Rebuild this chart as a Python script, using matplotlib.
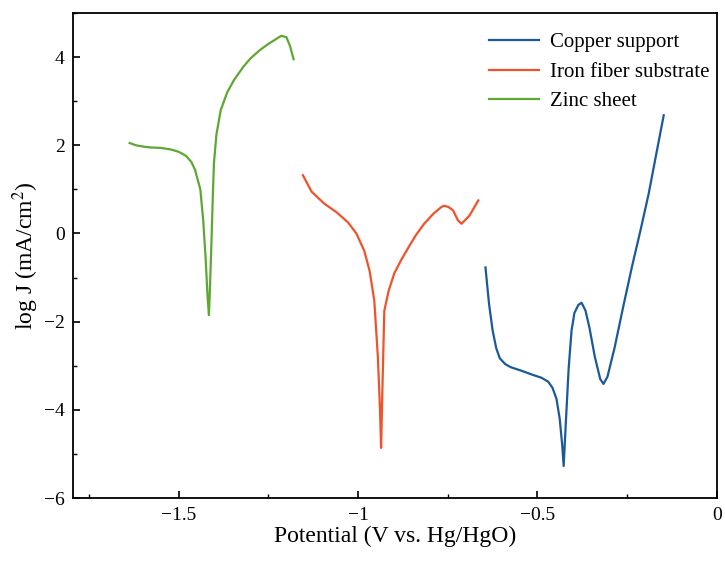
import numpy as np
import matplotlib
matplotlib.use("Agg")
import matplotlib.pyplot as plt
from matplotlib.ticker import MultipleLocator

plt.rcParams['font.family'] = ['Liberation Serif', 'DejaVu Serif']
plt.rcParams['mathtext.fontset'] = 'stix'

# Copper support
cu_x = [-0.645, -0.635, -0.625, -0.615, -0.605, -0.59, -0.575, -0.545, -0.515, -0.489,
        -0.470, -0.458, -0.447, -0.438, -0.431, -0.427, -0.421, -0.413, -0.405, -0.397,
        -0.386, -0.377, -0.366, -0.355, -0.340, -0.325, -0.316, -0.305, -0.285, -0.262,
        -0.237, -0.212, -0.19, -0.17, -0.148]
cu_y = [-0.77, -1.6, -2.2, -2.6, -2.83, -2.96, -3.03, -3.11, -3.2, -3.27,
        -3.36, -3.5, -3.75, -4.2, -4.8, -5.27, -4.3, -3.05, -2.2, -1.8,
        -1.62, -1.57, -1.75, -2.14, -2.8, -3.3, -3.41, -3.25, -2.59, -1.7,
        -0.77, 0.1, 0.9, 1.75, 2.68]

# Iron fiber substrate
fe_x = [-1.154, -1.13, -1.095, -1.06, -1.028, -1.005, -0.983, -0.968, -0.955, -0.945,
        -0.939, -0.936, -0.932, -0.927, -0.915, -0.899, -0.88, -0.86, -0.84, -0.816,
        -0.79, -0.768, -0.76, -0.748, -0.735, -0.722, -0.712, -0.69, -0.665]
fe_y = [1.32, 0.95, 0.68, 0.48, 0.25, 0.0, -0.39, -0.85, -1.52, -2.8,
        -4.0, -4.86, -3.4, -1.75, -1.3, -0.9, -0.6, -0.32, -0.05, 0.22,
        0.45, 0.6, 0.63, 0.6, 0.52, 0.3, 0.22, 0.4, 0.75]

# Zinc sheet
zn_x = [-1.637, -1.62, -1.60, -1.58, -1.55, -1.52, -1.50, -1.48, -1.465, -1.455,
        -1.44, -1.432, -1.425, -1.42, -1.416, -1.413, -1.409, -1.405, -1.402, -1.395,
        -1.383, -1.365, -1.346, -1.32, -1.30, -1.275, -1.25, -1.23, -1.215, -1.20,
        -1.19, -1.18]
zn_y = [2.05, 2.0, 1.97, 1.95, 1.94, 1.9, 1.85, 1.76, 1.62, 1.45,
        1.0, 0.3, -0.6, -1.4, -1.85, -1.2, -0.2, 0.9, 1.6, 2.25,
        2.8, 3.2, 3.48, 3.78, 3.97, 4.15, 4.3, 4.4, 4.48, 4.45,
        4.25, 3.95]

labels = ["Copper support", "Iron fiber substrate", "Zinc sheet"]
colors = ["#1b5a98", "#f0522c", "#5da832"]

fig = plt.figure(figsize=(7.25, 5.61), dpi=100)
ax = fig.add_axes([0.1007, 0.112, 0.888, 0.865])

ax.plot(cu_x, cu_y, color=colors[0], lw=1.6, label=labels[0])
ax.plot(fe_x, fe_y, color=colors[1], lw=1.6, label=labels[1])
ax.plot(zn_x, zn_y, color=colors[2], lw=1.6, label=labels[2])

ax.set_xlim(-1.795, 0)
ax.set_ylim(-6, 5)
ax.xaxis.set_minor_locator(MultipleLocator(0.25))
ax.yaxis.set_minor_locator(MultipleLocator(1))
ax.set_xticks([-1.5, -1, -0.5, 0])
ax.set_xticklabels(["\u22121.5", "\u22121", "\u22120.5", "0"])
ax.set_yticks([-6, -4, -2, 0, 2, 4])
ax.set_yticklabels(["\u22126", "\u22124", "\u22122", "0", "2", "4"])
ax.tick_params(which='both', direction='in', top=False, right=False, labelsize=14)
ax.tick_params(which='major', length=5, width=1.2, pad=6)
ax.tick_params(which='minor', length=3, width=1.0)
for s in ax.spines.values():
    s.set_linewidth(1.3)

ax.set_xlabel("Potential (V vs. Hg/HgO)", fontsize=17, labelpad=2)
ax.set_ylabel("log J (mA/cm$^2$)", fontsize=17, labelpad=2)

ax.legend(loc='upper right', bbox_to_anchor=(1.02, 1), frameon=False, fontsize=15,
          handlelength=2.4, handletextpad=0.55, labelspacing=0.48,
          borderaxespad=0.2, borderpad=0.75)

fig.savefig("out.png", dpi=100)
